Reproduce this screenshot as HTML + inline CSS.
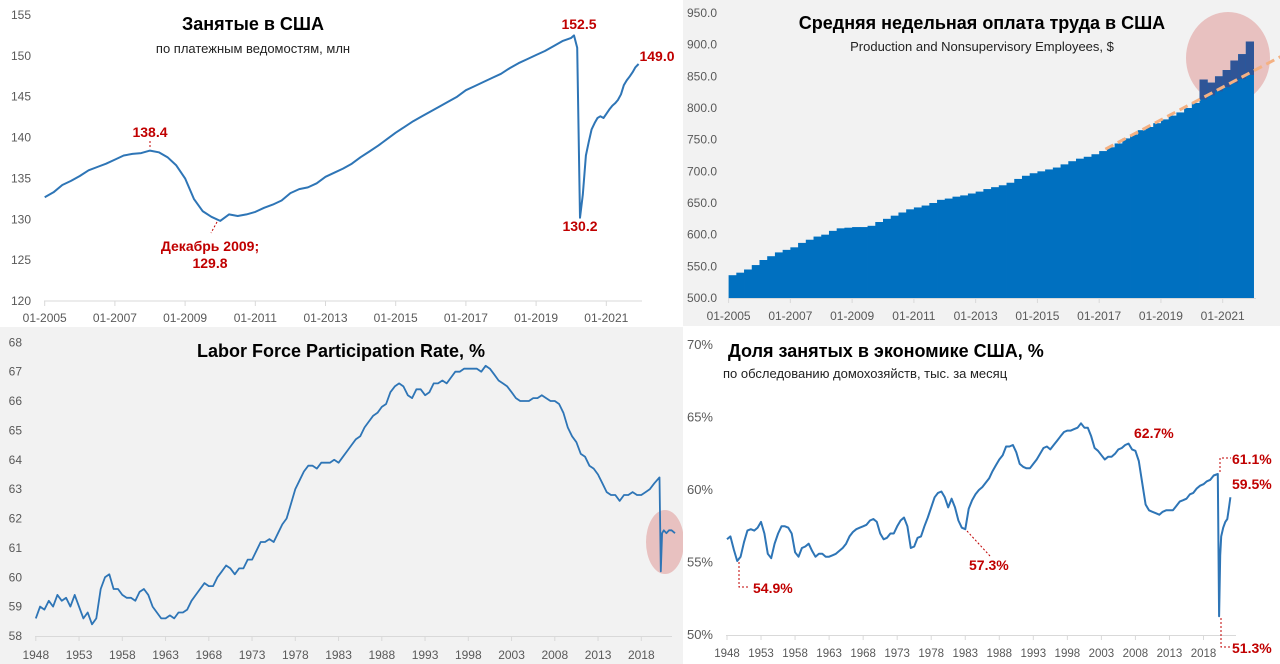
<!DOCTYPE html>
<html><head><meta charset="utf-8"><style>
html,body{margin:0;padding:0;background:#fff;}
svg{display:block;font-family:"Liberation Sans","DejaVu Sans",sans-serif;}
</style></head><body>
<svg id="s" width="1280" height="664" viewBox="0 0 1280 664"></svg>
<script>
// ---------- Panel 1: payrolls (millions) ----------
const p1Start = 2005, p1Step = 0.25;
const p1Quarterly = [132.7,133.3,134.2,134.7, 135.3,136.0,136.4,136.8, 137.3,137.8,138.0,138.1, 138.4,138.2,137.6,136.6,
 135.0,132.5,131.0,130.3, 129.8,130.6,130.4,130.6, 130.9,131.4,131.8,132.3, 133.2,133.7,133.9,134.4,
 135.2,135.7,136.2,136.8, 137.6,138.3,139.0,139.8, 140.6,141.3,142.0,142.6, 143.2,143.8,144.4,145.0,
 145.8,146.3,146.8,147.3, 147.8,148.5,149.1,149.6, 150.1,150.6,151.2,151.8];
const p1TailDates = [2020.0,2020.08,2020.17,2020.25,2020.33,2020.42,2020.5,2020.58,2020.67,2020.75,2020.83,2020.92,
 2021.0,2021.08,2021.17,2021.25,2021.33,2021.42,2021.5,2021.58,2021.67,2021.75,2021.83,2021.92];
const p1TailValues = [152.2,152.5,151.0,130.2,133.0,137.8,139.5,141.0,141.8,142.4,142.6,142.4,
 142.9,143.4,143.9,144.2,144.6,145.3,146.4,147.0,147.5,148.0,148.6,149.0];
const p1YTicks = [120,125,130,135,140,145,150,155];
const p1XTicks = ["01-2005","01-2007","01-2009","01-2011","01-2013","01-2015","01-2017","01-2019","01-2021"];

// ---------- Panel 2: weekly earnings ($) ----------
const p2Start = 2005, p2Step = 0.25;
const p2Values = [536,540,545,552, 560,566,572,576, 580,587,592,597, 600,606,610,611, 612,612,614,620,
 625,630,635,640, 643,646,650,655, 657,660,662,665, 668,672,675,678, 682,688,693,697, 700,703,706,711,
 716,720,723,727, 732,738,744,752, 758,765,770,776, 782,788,793,800, 808,845,840,850, 860,875,885,905];
const p2TrendX = [2017.2, 2022.87];
const p2TrendY = [735, 881];
const p2YTicks = [500,550,600,650,700,750,800,850,900,950];
const p2XTicks = ["01-2005","01-2007","01-2009","01-2011","01-2013","01-2015","01-2017","01-2019","01-2021"];

// ---------- Panel 3: LFPR (%) ----------
const p3Start = 1948, p3Step = 0.5;
const p3Values = [58.6,59.0, 58.9,59.2, 59.0,59.4, 59.2,59.3, 59.0,59.4, 59.0,58.6, 58.8,58.4, 58.6,59.6, 60.0,60.1,
 59.6,59.6, 59.4,59.3, 59.3,59.2, 59.5,59.6, 59.4,59.0, 58.8,58.6, 58.6,58.7, 58.6,58.8, 58.8,58.9, 59.2,59.4,
 59.6,59.8, 59.7,59.7, 60.0,60.2, 60.4,60.3, 60.1,60.3, 60.3,60.6, 60.6,60.9, 61.2,61.2, 61.3,61.2, 61.5,61.8,
 62.0,62.5, 63.0,63.3, 63.6,63.8, 63.8,63.7, 63.9,63.9, 63.9,64.0, 63.9,64.1, 64.3,64.5, 64.7,64.8, 65.1,65.3,
 65.5,65.6, 65.8,65.9, 66.3,66.5, 66.6,66.5, 66.2,66.1, 66.4,66.4, 66.2,66.3, 66.6,66.6, 66.7,66.6, 66.8,67.0,
 67.0,67.1, 67.1,67.1, 67.1,67.0, 67.2,67.1, 66.9,66.7, 66.6,66.5, 66.3,66.1, 66.0,66.0, 66.0,66.1, 66.1,66.2,
 66.1,66.0, 66.0,65.9, 65.6,65.1, 64.8,64.6, 64.2,64.1, 63.8,63.7, 63.5,63.2, 62.9,62.8, 62.8,62.6, 62.8,62.8,
 62.9,62.8, 62.8,62.9, 63.0,63.2];
const p3TailDates = [2020.1,2020.25,2020.4,2020.6,2020.9,2021.2,2021.5,2021.9];
const p3TailValues = [63.4,60.2,61.5,61.6,61.5,61.6,61.6,61.5];
const p3YTicks = [58,59,60,61,62,63,64,65,66,67,68];
const p3XTicks = [1948,1953,1958,1963,1968,1973,1978,1983,1988,1993,1998,2003,2008,2013,2018];

// ---------- Panel 4: employment-population ratio (%) ----------
const p4Start = 1948, p4Step = 0.5;
const p4Values = [56.6,56.8, 55.9,55.1, 55.4,56.4, 57.2,57.3, 57.2,57.4, 57.8,57.0, 55.6,55.3, 56.3,57.0, 57.5,57.5,
 57.4,57.0, 55.7,55.4, 56.0,56.1, 56.3,55.8, 55.4,55.6, 55.6,55.4, 55.4,55.5, 55.6,55.8, 56.0,56.3, 56.8,57.1,
 57.3,57.4, 57.5,57.6, 57.9,58.0, 57.8,57.0, 56.6,56.7, 57.0,57.0, 57.5,57.9, 58.1,57.5, 56.0,56.1, 56.7,56.8,
 57.5,58.1, 58.8,59.5, 59.8,59.9, 59.5,58.8, 59.4,58.8, 57.9,57.4, 57.3,58.7, 59.3,59.7, 60.0,60.2, 60.5,60.8,
 61.3,61.7, 62.1,62.4, 63.0,63.0, 63.1,62.6, 61.8,61.6, 61.5,61.5, 61.8,62.1, 62.5,62.9, 63.0,62.8, 63.1,63.4,
 63.7,64.0, 64.1,64.1, 64.2,64.3, 64.6,64.3, 64.3,63.7, 62.9,62.7, 62.4,62.1, 62.3,62.3, 62.5,62.8, 62.9,63.1,
 63.2,62.8, 62.7,62.0, 60.5,59.0, 58.6,58.5, 58.4,58.3, 58.5,58.6, 58.6,58.6, 58.9,59.2, 59.3,59.4, 59.7,59.8,
 60.1,60.3, 60.4,60.6, 60.7,61.0];
const p4TailDates = [2020.1,2020.29,2020.45,2020.6,2020.9,2021.2,2021.5,2021.75,2021.95];
const p4TailValues = [61.1,51.3,55.5,56.8,57.4,57.8,58.0,58.8,59.5];
const p4YTicks = [50,55,60,65,70];
const p4XTicks = [1948,1953,1958,1963,1968,1973,1978,1983,1988,1993,1998,2003,2008,2013,2018];

const NS = "http://www.w3.org/2000/svg";
const svg = document.getElementById('s');
function el(tag, attrs, parent, txt){
  const e = document.createElementNS(NS, tag);
  for (const k in attrs) e.setAttribute(k, attrs[k]);
  if (txt !== undefined) e.textContent = txt;
  (parent || svg).appendChild(e);
  return e;
}
function lin(d0,d1,r0,r1){ return v => r0 + (v-d0)*(r1-r0)/(d1-d0); }
function buildSeries(start, step, vals, tDates, tVals){
  const pts = vals.map((v,i)=>[start+i*step, v]);
  if (tDates) tDates.forEach((d,i)=>pts.push([d, tVals[i]]));
  return pts;
}
function pathFrom(pts, x, y){ return pts.map((p,i)=>(i?'L':'M')+x(p[0]).toFixed(1)+','+y(p[1]).toFixed(1)).join(''); }
const LINE = "#2E75B6", RED = "#C00000", TICK = "#595959";

// ===== Panel 1 =====
let g = el('g', {}, svg);


let r = el('rect', {x:0,y:0,width:683,height:326,fill:'#ffffff'}, g);


{
  const x = lin(2005, 2021, 44.7, 606.3), y = lin(120, 155, 301, 15);
  const ax = el('line',{x1:44,y1:301,x2:642,y2:301,stroke:'#d9d9d9','stroke-width':1},g);
  
  
  p1YTicks.forEach(v=>{
    const t = el('text',{x:31,y:y(v)+4,'text-anchor':'end','font-size':12,fill:TICK},g,String(v));
    
    
  });
  p1XTicks.forEach((lab,i)=>{
    const xx = x(2005+2*i);
    el('line',{x1:xx,y1:301,x2:xx,y2:306,stroke:'#d9d9d9'},g);
    const t = el('text',{x:xx,y:322,'text-anchor':'middle','font-size':12,fill:TICK},g,lab);
    
    
  });
  const pts = buildSeries(p1Start, p1Step, p1Quarterly, p1TailDates, p1TailValues);
  const ln = el('path',{d:pathFrom(pts,x,y),fill:'none',stroke:LINE,'stroke-width':2,'stroke-linejoin':'round'},g);
  
  
  let t = el('text',{x:253,y:30,'text-anchor':'middle','font-size':18,'font-weight':'bold',fill:'#000'},g,'Занятые в США');
  
  
  t = el('text',{x:253,y:53,'text-anchor':'middle','font-size':13,fill:'#222'},g,'по платежным ведомостям, млн');
  
  
  const ann = [[150,137,'138.4'],[210,251,'Декабрь 2009;'],[210,268,'129.8'],[579,29,'152.5'],[580,231,'130.2'],[657,61,'149.0']];
  ann.forEach(a=>{
    const e = el('text',{x:a[0],y:a[1],'text-anchor':'middle','font-size':14,'font-weight':'bold',fill:RED},g,a[2]);
    
    
  });
  el('line',{x1:150,y1:141,x2:150,y2:148,stroke:RED,'stroke-dasharray':'2,2'},g);
  el('line',{x1:217,y1:222,x2:211,y2:233,stroke:RED,'stroke-dasharray':'2,2'},g);
}

// ===== Panel 2 =====
g = el('g', {}, svg);


r = el('rect', {x:683,y:0,width:597,height:326,fill:'#f2f2f2'}, g);


{
  const x = lin(2005, 2021, 728.6, 1222.7), y = lin(500, 950, 298, 13);
  const ell = el('ellipse',{cx:1228,cy:58,rx:42,ry:46,fill:'#e6b8b7',opacity:0.85},g);
  
  
  const trend = v => p2TrendY[0] + (v-p2TrendX[0])*(p2TrendY[1]-p2TrendY[0])/(p2TrendX[1]-p2TrendX[0]);
  p2Values.forEach((v,i)=>{
    const d = p2Start + i*p2Step, x0 = x(d), x1 = x(d+p2Step);
    const b = el('rect',{x:x0,y:y(v),width:(x1-x0+0.4),height:298-y(v),fill:'#0070C0'},g);
    
    
    if (d >= 2020.2 && v > trend(d)) {
      const o = el('rect',{x:x0,y:y(v),width:(x1-x0+0.4),height:y(trend(d))-y(v),fill:'#2F5597'},g);
      
      
    }
  });
  const tl = el('line',{x1:x(p2TrendX[0]),y1:y(p2TrendY[0]),x2:x(p2TrendX[1]),y2:y(p2TrendY[1]),stroke:'#F4B183','stroke-width':3,'stroke-dasharray':'9,5'},g);
  
  
  el('line',{x1:728,y1:298.5,x2:1256,y2:298.5,stroke:'#d9d9d9'},g);
  p2YTicks.forEach(v=>{
    const t = el('text',{x:717,y:y(v)+4,'text-anchor':'end','font-size':12,fill:TICK},g,v.toFixed(1));
    
    
  });
  p2XTicks.forEach((lab,i)=>{
    const xx = x(2005+2*i);
    el('line',{x1:xx,y1:298,x2:xx,y2:303,stroke:'#d9d9d9'},g);
    const t = el('text',{x:xx,y:320,'text-anchor':'middle','font-size':12,fill:TICK},g,lab);
    
    
  });
  let t = el('text',{x:982,y:29,'text-anchor':'middle','font-size':18,'font-weight':'bold',fill:'#000'},g,'Средняя недельная оплата труда в США');
  
  
  t = el('text',{x:982,y:51,'text-anchor':'middle','font-size':13,fill:'#222'},g,'Production and Nonsupervisory Employees, $');
  
  
}

// ===== Panel 3 =====
g = el('g', {}, svg);


r = el('rect', {x:0,y:327,width:683,height:337,fill:'#f2f2f2'}, g);


{
  const x = lin(1948, 2018, 35.8, 641.3), y = lin(58, 68, 636, 342.3);
  const ell = el('ellipse',{cx:665,cy:542,rx:19,ry:32,fill:'#e6b8b7',opacity:0.85},g);
  
  
  el('line',{x1:35,y1:636.5,x2:672,y2:636.5,stroke:'#d9d9d9'},g);
  p3YTicks.forEach(v=>{
    const t = el('text',{x:22,y:y(v)+4,'text-anchor':'end','font-size':12,fill:TICK},g,String(v));
    
    
  });
  p3XTicks.forEach(v=>{
    const xx = x(v);
    el('line',{x1:xx,y1:636,x2:xx,y2:641,stroke:'#d9d9d9'},g);
    const t = el('text',{x:xx,y:659,'text-anchor':'middle','font-size':12,fill:TICK},g,String(v));
    
    
  });
  const pts = buildSeries(p3Start, p3Step, p3Values, p3TailDates, p3TailValues);
  const ln = el('path',{d:pathFrom(pts,x,y),fill:'none',stroke:LINE,'stroke-width':1.8,'stroke-linejoin':'round'},g);
  
  
  const t = el('text',{x:341,y:357,'text-anchor':'middle','font-size':18,'font-weight':'bold',fill:'#000'},g,'Labor Force Participation Rate, %');
  
  
}

// ===== Panel 4 =====
g = el('g', {}, svg);


r = el('rect', {x:683,y:327,width:597,height:337,fill:'#ffffff'}, g);


{
  const x = lin(1948, 2018, 727, 1203.5), y = lin(50, 70, 635, 345);
  el('line',{x1:726,y1:635.5,x2:1236,y2:635.5,stroke:'#d9d9d9'},g);
  p4YTicks.forEach(v=>{
    const t = el('text',{x:713,y:y(v)+4,'text-anchor':'end','font-size':13,fill:TICK},g,v+'%');
    
    
  });
  p4XTicks.forEach(v=>{
    const xx = x(v);
    el('line',{x1:xx,y1:635,x2:xx,y2:640,stroke:'#d9d9d9'},g);
    const t = el('text',{x:xx,y:657,'text-anchor':'middle','font-size':11.5,fill:TICK},g,String(v));
    
    
  });
  const pts = buildSeries(p4Start, p4Step, p4Values, p4TailDates, p4TailValues);
  const ln = el('path',{d:pathFrom(pts,x,y),fill:'none',stroke:LINE,'stroke-width':2,'stroke-linejoin':'round'},g);
  
  
  let t = el('text',{x:728,y:357,'font-size':18,'font-weight':'bold',fill:'#000'},g,'Доля занятых в экономике США, %');
  
  
  t = el('text',{x:723,y:378,'font-size':13,fill:'#222'},g,'по обследованию домохозяйств, тыс. за месяц');
  
  
  const ann = [[753,593,'54.9%'],[969,570,'57.3%'],[1134,438,'62.7%'],[1232,464,'61.1%'],[1232,489,'59.5%'],[1232,653,'51.3%']];
  ann.forEach(a=>{
    const e = el('text',{x:a[0],y:a[1],'font-size':14,'font-weight':'bold',fill:RED},g,a[2]);
    
    
  });
  const dash = {fill:'none',stroke:RED,'stroke-width':1,'stroke-dasharray':'2,2'};
  el('path',Object.assign({d:'M739,562 L739,587 L750,587'},dash),g);
  el('path',Object.assign({d:'M967,531 L990,556'},dash),g);
  el('path',Object.assign({d:'M1220,472 L1220,458 L1231,458'},dash),g);
  el('path',Object.assign({d:'M1221,618 L1221,647 L1230,647'},dash),g);
}
</script>
</body></html>
